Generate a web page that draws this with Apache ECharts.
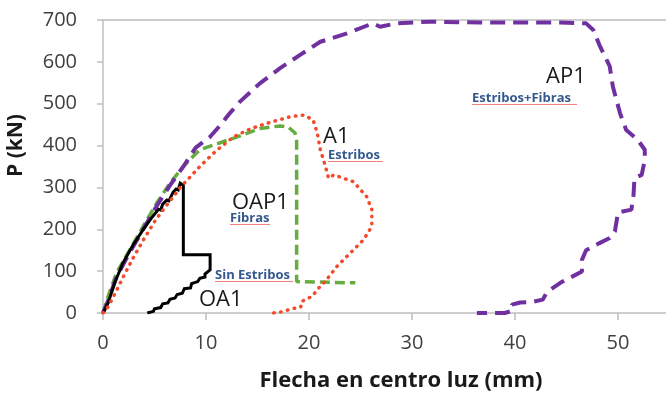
<!DOCTYPE html>
<html>
<head>
<meta charset="utf-8">
<script src="https://cdn.jsdelivr.net/npm/echarts@6/dist/echarts.min.js"></script>
<style>html,body{margin:0;padding:0;background:#fff}#c{width:666px;height:397px}</style>
</head>
<body>
<div id="c"></div>
<script>
// Axis ticks
var xTicks = [0, 10, 20, 30, 40, 50, 60];
var yTicks = [0, 100, 200, 300, 400, 500, 600, 700];

// Series: [deflection (mm), load P (kN)]
var serieOA1 = [[0,0],[0.5,24],[1.1,70],[1.9,118],[2.9,162],[3.9,199],[4.8,230],[5.4,248],[5.6,246],[5.8,260],[6.2,270],[6.4,268],[6.8,288],[7.1,296],[7.3,294],[7.5,310],[7.8,305],[7.8,139],[10.4,139],[10.4,103],[9.9,93],[9.9,86],[9.4,83],[9.2,75],[8.6,70],[8.5,60],[7.9,58],[7.7,47],[7.2,44],[7.0,36],[6.5,33],[6.3,24],[5.8,22],[5.6,13],[5.0,10],[4.9,4],[4.3,0]];
var serieOAP1 = [[0,0],[0.5,40],[1.3,95],[2.6,151],[3.9,207],[5.2,262],[6.5,310],[7.8,350],[8.9,378],[9.4,390],[12.7,418],[15.3,441],[17.2,447],[18.0,444],[18.65,430],[18.8,410],[18.8,75],[24.5,72]];
var serieA1 = [[0,0],[0.5,15],[1.2,48],[2.0,88],[3.0,135],[4.0,178],[5.0,218],[6.0,252],[7.0,283],[7.5,300],[8.5,326],[9.4,350],[11,388],[12.7,421],[14.3,440],[15.9,453],[18.2,469],[19.5,473],[20.4,461],[20.8,430],[21.1,390],[21.6,350],[21.9,322],[22.4,330],[24.3,314],[25.6,278],[26.1,247],[26.1,207],[25.3,175],[24.0,143],[22.7,111],[21.7,79],[20.8,56],[20.4,42],[19.8,33],[19.3,28],[19.2,14],[18.3,10],[17.4,3],[16.5,0]];
var serieAP1 = [[0,0],[0.5,30],[1.3,85],[2.6,145],[3.9,200],[5.2,255],[6.5,305],[7.8,350],[9.0,395],[10.4,421],[11.4,449],[12.3,477],[13.3,505],[15.2,548],[17.2,585],[19.1,616],[21.1,648],[23.7,668],[26.2,692],[26.9,684],[28.5,692],[31.7,696],[36.6,694],[44.4,694],[46.9,692],[47.6,676],[48.2,640],[49.2,589],[49.5,541],[50.2,477],[50.8,437],[51.9,414],[52.6,390],[52.6,366],[52.3,330],[51.6,322],[51.5,280],[51.3,247],[50.0,240],[49.7,195],[49.2,179],[48.2,167],[46.9,150],[46.5,127],[46.5,99],[45.0,80],[44.4,72],[43.1,50],[42.7,32],[41.6,26],[40.5,25],[39.7,20],[39.7,5],[39.0,0],[36.3,0]];

// Annotation texts
var labelNames = ['AP1', 'A1', 'OAP1', 'OA1'];
var labelNotes = ['Estribos+Fibras', 'Estribos', 'Fibras', 'Sin Estribos'];

var FONT = '"Open Sans", "Liberation Sans", sans-serif';
var chart = echarts.init(document.getElementById('c'), null, {renderer: 'canvas'});

function bigText(t, x, y) {
  return {type: 'text', x: x, y: y, style: {text: t, fill: '#1a1a1a', font: '22px ' + FONT, textVerticalAlign: 'middle', textAlign: 'left'}};
}
function noteText(t, x, y, w) {
  return [
    {type: 'text', x: x, y: y, style: {text: t, fill: '#34598f', font: 'bold 13px ' + FONT, textVerticalAlign: 'middle', textAlign: 'left'}},
    {type: 'line', shape: {x1: x, y1: y + 6.5, x2: x + w, y2: y + 6.5}, style: {stroke: '#f08080', lineWidth: 1}}
  ];
}

var graphics = [].concat(
  [bigText(labelNames[0], 546, 77)], noteText(labelNotes[0], 472, 98, 105),
  [bigText(labelNames[1], 323, 137)], noteText(labelNotes[1], 328, 155, 55),
  [bigText(labelNames[2], 232, 203)], noteText(labelNotes[2], 230, 218, 40),
  noteText(labelNotes[3], 215, 275, 78), [bigText(labelNames[3], 199, 300)]
);

chart.setOption({
  animation: false,
  backgroundColor: '#fff',
  grid: {left: 103, right: -55, top: 20, bottom: 84, containLabel: false, outerBoundsMode: 'none'},
  xAxis: [{
    type: 'value', min: xTicks[0], max: xTicks[xTicks.length - 1], interval: 10,
    axisLine: {lineStyle: {color: '#bfbfbf', width: 1.5}},
    axisTick: {show: true, length: 7, lineStyle: {color: '#bfbfbf', width: 1.5}},
    splitLine: {show: false},
    axisLabel: {margin: 20, color: '#404040', fontSize: 20, fontFamily: FONT},
    name: 'Flecha en centro luz (mm)', nameLocation: 'middle', nameGap: 57,
    nameTextStyle: {fontFamily: FONT, fontWeight: 'bold', fontSize: 22, color: '#1a1a1a', padding: [0, 22, 0, 0]}
  }, {
    type: 'value', position: 'top', min: xTicks[0], max: xTicks[xTicks.length - 1],
    axisLine: {show: true, lineStyle: {color: '#bfbfbf', width: 1.5}},
    axisTick: {show: false}, axisLabel: {show: false}, splitLine: {show: false}
  }],
  yAxis: {
    type: 'value', min: yTicks[0], max: yTicks[yTicks.length - 1], interval: 100,
    axisLine: {show: true, lineStyle: {color: '#bfbfbf', width: 1.5}},
    axisTick: {show: true, length: 6, lineStyle: {color: '#bfbfbf', width: 1.5}},
    splitLine: {show: false},
    axisLabel: {margin: 26, color: '#404040', fontSize: 20, fontFamily: FONT},
    name: 'P (kN)', nameLocation: 'middle', nameGap: 76,
    nameTextStyle: {fontFamily: FONT, fontWeight: 'bold', fontSize: 21, color: '#1a1a1a', padding: [0, 0, 0, 42]}
  },
  series: [
    {name: 'OAP1', type: 'line', data: serieOAP1, symbol: 'none', xAxisIndex: 0,
     lineStyle: {color: '#66ad3f', width: 3.5, type: [10, 5]}},
    {name: 'AP1', type: 'line', data: serieAP1, symbol: 'none', xAxisIndex: 0,
     lineStyle: {color: '#7030a0', width: 4, type: [15, 8]}},
    {name: 'OA1', type: 'line', data: serieOA1, symbol: 'none', xAxisIndex: 0,
     lineStyle: {color: '#000', width: 3, join: 'miter'}},
    {name: 'A1', type: 'line', data: serieA1, symbol: 'none', xAxisIndex: 0,
     lineStyle: {color: '#f24a2a', width: 3.5, type: [0.5, 6.5], cap: 'round'}}
  ],
  graphic: graphics
});
</script>
</body>
</html>
